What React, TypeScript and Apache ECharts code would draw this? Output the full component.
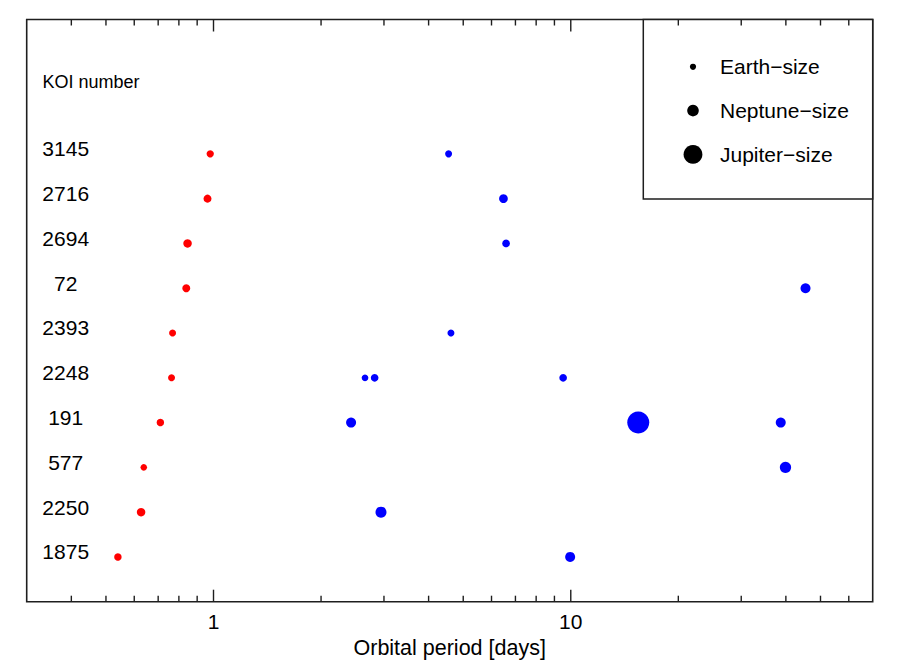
import React, { useEffect, useRef } from "react";
import * as echarts from "echarts";

// KOI numbers, bottom row (1) to top row (10)
const koiNumbers = ["1875", "2250", "577", "191", "2248", "2393", "72", "2694", "2716", "3145"];

// Innermost planet per system (red): orbital period [days] and radius [Earth radii]
const innerPeriods = [0.54, 0.627, 0.638, 0.71, 0.763, 0.768, 0.839, 0.846, 0.962, 0.979];
const innerRadii = [1.51, 1.98, 1.11, 1.51, 1.3, 1.3, 1.74, 1.98, 1.74, 1.43];

// Other planets per system (blue)
const outerPeriods = [
  [9.96],
  [2.943],
  [39.9],
  [2.427, 15.45, 38.7],
  [2.655, 2.825, 9.52],
  [4.62],
  [45.4],
  [6.59],
  [6.48],
  [4.55],
];
const outerRadii = [
  [2.83],
  [3.48],
  [3.69],
  [2.83, 15.7, 2.83],
  [1.18, 1.6, 1.6],
  [1.3],
  [2.83],
  [1.6],
  [2.09],
  [1.3],
];

// Axis ticks
const majorTicks = [1, 10];
const minorTicks = [0.4, 0.5, 0.6, 0.7, 0.8, 0.9, 2, 3, 4, 5, 6, 7, 8, 9, 20, 30, 40, 50, 60];
const xMin = 0.3;
const xMax = 70;

// Legend
const legendLabels = ["Earth\u2212size", "Neptune\u2212size", "Jupiter\u2212size"];
const legendRadii = [1, 3.9, 11.2];

const FONT = "'Liberation Sans', Arial, Helvetica, sans-serif";
const INK = "#1e1e1e";

const dotSize = (r: number) => 6.2 * Math.pow(r, 0.46);

export default function App() {
  const ref = useRef<HTMLDivElement>(null);

  useEffect(() => {
    if (!ref.current) return;
    const chart = echarts.init(ref.current, undefined, { renderer: "svg" });

    const innerData = innerPeriods.map((p, i) => [p, i + 1, innerRadii[i]]);
    const outerData: number[][] = [];
    outerPeriods.forEach((list, i) => {
      list.forEach((p, j) => outerData.push([p, i + 1, outerRadii[i][j]]));
    });
    const tickData = [
      ...majorTicks.map((v) => [v, 1]),
      ...minorTicks.map((v) => [v, 0]),
    ];

    const gridLeft = 26.7;
    const gridRight = 27.3;
    const gridTop = 19.5;
    const gridBottom = 67.3;

    const legendX = 643.3;
    const legendRowY = 66.8;
    const legendStep = 43.8;

    const legendChildren: any[] = [
      {
        type: "rect",
        shape: { x: legendX, y: gridTop, width: 900 - gridRight - legendX, height: 199 - gridTop },
        style: { fill: "#fff", stroke: INK, lineWidth: 1.5 },
      },
    ];
    legendLabels.forEach((label, i) => {
      const y = legendRowY + i * legendStep;
      legendChildren.push({
        type: "circle",
        shape: { cx: 693, cy: y, r: dotSize(legendRadii[i]) / 2 },
        style: { fill: "#000" },
      });
      legendChildren.push({
        type: "text",
        x: 720,
        y,
        style: {
          text: label,
          fontSize: 21,
          fontFamily: FONT,
          fill: "#000",
          align: "left",
          verticalAlign: "middle",
        },
      });
    });

    chart.setOption({
      animation: false,
      backgroundColor: "#fff",
      grid: {
        left: gridLeft,
        right: gridRight,
        top: gridTop,
        bottom: gridBottom,
        show: true,
        borderColor: INK,
        borderWidth: 1.6,
        backgroundColor: "transparent",
      },
      xAxis: {
        type: "log",
        logBase: 10,
        min: xMin,
        max: xMax,
        axisLine: { show: false },
        axisTick: { show: false },
        splitLine: { show: false },
        axisLabel: {
          margin: 9,
          fontSize: 21,
          fontFamily: FONT,
          color: "#000",
          formatter: (v: number) => {
            const m = majorTicks.find((t) => Math.abs(v - t) / t < 1e-6);
            return m !== undefined ? String(m) : "";
          },
        },
        name: "Orbital period [days]",
        nameLocation: "middle",
        nameGap: 32.5,
        nameTextStyle: { fontSize: 21.5, fontFamily: FONT, color: "#000" },
      },
      yAxis: {
        type: "value",
        min: 0,
        max: 13,
        interval: 1,
        axisLine: { show: false },
        axisTick: { show: false },
        splitLine: { show: false },
        axisLabel: {
          inside: true,
          margin: 39,
          align: "center",
          verticalAlign: "bottom",
          lineHeight: 10,
          fontSize: 21,
          fontFamily: FONT,
          color: "#000",
          formatter: (v: number) => koiNumbers[Math.round(v) - 1] ?? "",
        },
      },
      graphic: [
        {
          type: "text",
          x: 42.5,
          y: 82,
          style: {
            text: "KOI number",
            fontSize: 18,
            fontFamily: FONT,
            fill: "#000",
            align: "left",
            verticalAlign: "middle",
          },
        },
        { type: "group", children: legendChildren, z: 10 },
      ],
      series: [
        {
          type: "custom",
          silent: true,
          clip: false,
          data: tickData,
          renderItem: (params: any, api: any) => {
            const x = api.coord([api.value(0), 1])[0];
            const cs = params.coordSys;
            const len = api.value(1) ? 12 : 6;
            const bottom = cs.y + cs.height;
            return {
              type: "group",
              children: [
                {
                  type: "line",
                  shape: { x1: x, y1: bottom, x2: x, y2: bottom - len },
                  style: { stroke: INK, lineWidth: 1.4 },
                },
                {
                  type: "line",
                  shape: { x1: x, y1: cs.y, x2: x, y2: cs.y + len },
                  style: { stroke: INK, lineWidth: 1.4 },
                },
              ],
            };
          },
        },
        {
          type: "scatter",
          name: "innermost",
          data: innerData,
          symbol: "circle",
          symbolSize: (v: number[]) => dotSize(v[2]),
          itemStyle: { color: "#ff0000", opacity: 1 },
        },
        {
          type: "scatter",
          name: "outer",
          data: outerData,
          symbol: "circle",
          symbolSize: (v: number[]) => dotSize(v[2]),
          itemStyle: { color: "#0000ff", opacity: 1 },
        },
      ],
    });

    return () => chart.dispose();
  }, []);

  return (
    <div
      ref={ref}
      style={{ position: "absolute", left: 0, top: 0, width: 900, height: 669, background: "#fff" }}
    />
  );
}
